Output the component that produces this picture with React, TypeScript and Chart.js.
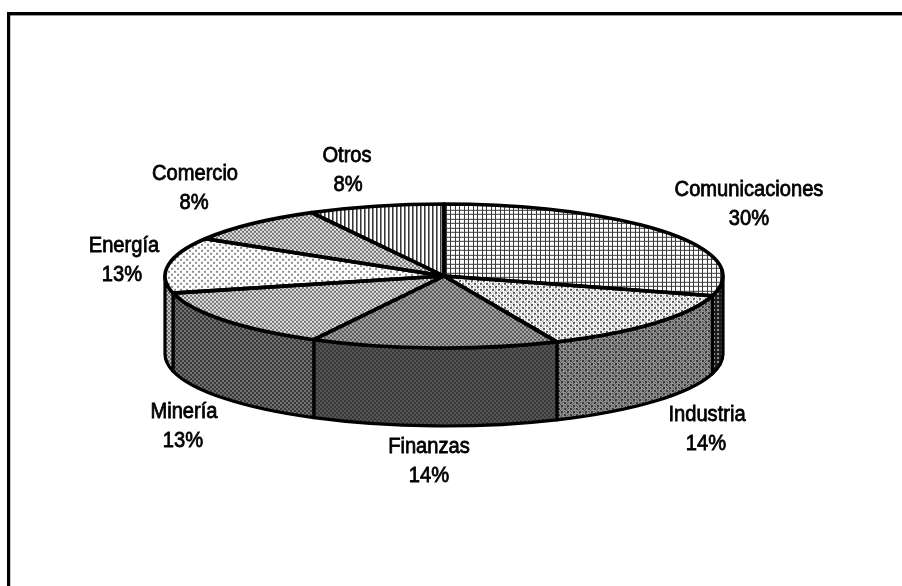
import React, { useEffect, useRef } from "react";
import { Chart, registerables } from "chart.js";

Chart.register(...registerables);

const categories = ["Comunicaciones", "Industria", "Finanzas", "Minería", "Energía", "Comercio", "Otros"];
const shares = [29.5, 14.0, 14.4, 13.5, 12.5, 8.5, 7.9];
const percentLabels = ["30%", "14%", "14%", "13%", "13%", "8%", "8%"];

// Layout of the pseudo-3D projection
const RX = 279;
const RY = 72;
const DEPTH = 78;
const SQUASH = RY / RX;
const labelCentres: [number, number, number][] = [
  [749, 190, 749],
  [707, 415, 706],
  [429, 447, 429],
  [184, 412, 183],
  [124, 246, 122],
  [195, 174, 194],
  [347, 156, 348],
];

// Pixel tiles: digits are grey levels (0 black ... 9 white)
const topTiles: string[][] = [
  ["222222222", "299992999", "299992999", "299992999", "299992999", "222222222", "299992999", "299992999", "299992999"],
  ["339969", "339699", "996999", "699339", "969339", "999699"],
  ["3366", "3366", "6633", "6633"],
  ["4488", "4488", "8844", "8844"],
  ["559999", "559999", "999999", "999559", "999559", "999999"],
  ["4488", "4488", "8844", "8844"],
  ["2599", "2599"],
];
const wallTiles: string[][] = [
  ["1111", "1551", "1551", "1111"],
  ["225535", "225355", "553555", "355225", "535225", "555355"],
  ["2233", "2233", "3322", "3322"],
  ["2244", "2244", "4422", "4422"],
  ["4477", "4477", "7744", "7744"],
  ["5577", "5577", "7755", "7755"],
  ["3699", "3699"],
];

function makePattern(tile: string[], yScale: number): CanvasPattern {
  const c = document.createElement("canvas");
  c.width = tile[0].length;
  c.height = tile.length;
  const x = c.getContext("2d")!;
  tile.forEach((row, j) => {
    [...row].forEach((d, i) => {
      const g = Math.round((Number(d) / 9) * 255);
      x.fillStyle = `rgb(${g},${g},${g})`;
      x.fillRect(i, j, 1, 1);
    });
  });
  const p = x.createPattern(c, "repeat")!;
  p.setTransform(new DOMMatrix().scale(1, yScale));
  return p;
}

function pie3dPlugin(wallPatterns: CanvasPattern[]) {
  return {
    id: "pie3d",
    beforeDatasetDraw(chart: any) {
      const ctx: CanvasRenderingContext2D = chart.ctx;
      const arcs = chart.getDatasetMeta(0).data;
      const { x: cx, y: cy } = arcs[0];
      ctx.save();
      ctx.lineWidth = 3.2;
      ctx.strokeStyle = "#000";
      ctx.lineJoin = "round";
      arcs.forEach((arc: any, i: number) => {
        const lo = Math.max(arc.startAngle, 0);
        const hi = Math.min(arc.endAngle, Math.PI);
        if (lo >= hi) return;
        ctx.beginPath();
        ctx.ellipse(cx, cy, arc.outerRadius, RY, 0, lo, hi);
        ctx.ellipse(cx, cy + DEPTH, arc.outerRadius, RY, 0, hi, lo, true);
        ctx.closePath();
        ctx.fillStyle = wallPatterns[i];
        ctx.fill();
        ctx.stroke();
      });
      ctx.restore();
      ctx.save();
      ctx.translate(cx, cy);
      ctx.scale(1, SQUASH);
      ctx.translate(-cx, -cy);
    },
    afterDatasetDraw(chart: any) {
      const ctx: CanvasRenderingContext2D = chart.ctx;
      ctx.restore();
      const arcs = chart.getDatasetMeta(0).data;
      ctx.save();
      ctx.lineWidth = 3.6;
      ctx.strokeStyle = "#000";
      ctx.lineJoin = "round";
      arcs.forEach((arc: any) => {
        ctx.beginPath();
        ctx.moveTo(arc.x, arc.y);
        ctx.ellipse(arc.x, arc.y, arc.outerRadius, RY, 0, arc.startAngle, arc.endAngle);
        ctx.closePath();
        ctx.stroke();
      });
      ctx.restore();
    },
    afterDraw(chart: any) {
      const ctx: CanvasRenderingContext2D = chart.ctx;
      ctx.save();
      ctx.fillStyle = "#000";
      ctx.fillRect(7, 12, 895, 3.4);
      ctx.fillRect(7, 12, 3.2, 574);
      ctx.font = '22px "Liberation Sans"';
      ctx.textAlign = "center";
      ctx.textBaseline = "middle";
      ctx.strokeStyle = "#000";
      ctx.lineWidth = 0.8;
      const put = (text: string, x: number, y: number) => {
        ctx.save();
        ctx.translate(x, y);
        ctx.scale(0.915, 1);
        ctx.fillText(text, 0, 0);
        ctx.strokeText(text, 0, 0);
        ctx.restore();
      };
      categories.forEach((name, i) => {
        const [x, y, px] = labelCentres[i];
        put(name, x, y);
        put(percentLabels[i], px, y + 29);
      });
      ctx.restore();
    },
  };
}

export default function App() {
  const ref = useRef<HTMLCanvasElement>(null);
  useEffect(() => {
    const chart = new Chart(ref.current!, {
      type: "pie",
      data: {
        labels: categories,
        datasets: [
          {
            data: shares,
            backgroundColor: topTiles.map((t) => makePattern(t, 1 / SQUASH)),
            borderWidth: 0,
            clip: false,
          } as any,
        ],
      },
      options: {
        responsive: false,
        animation: false,
        events: [],
        radius: RX,
        layout: { padding: { right: 14, bottom: 34 } },
        plugins: { legend: { display: false }, tooltip: { enabled: false } },
      } as any,
      plugins: [pie3dPlugin(wallTiles.map((t) => makePattern(t, 1)))],
    });
    return () => chart.destroy();
  }, []);
  return (
    <canvas
      ref={ref}
      width={902}
      height={586}
      style={{ position: "fixed", left: 0, top: 0, width: 902, height: 586, display: "block", background: "#fff" }}
    />
  );
}
